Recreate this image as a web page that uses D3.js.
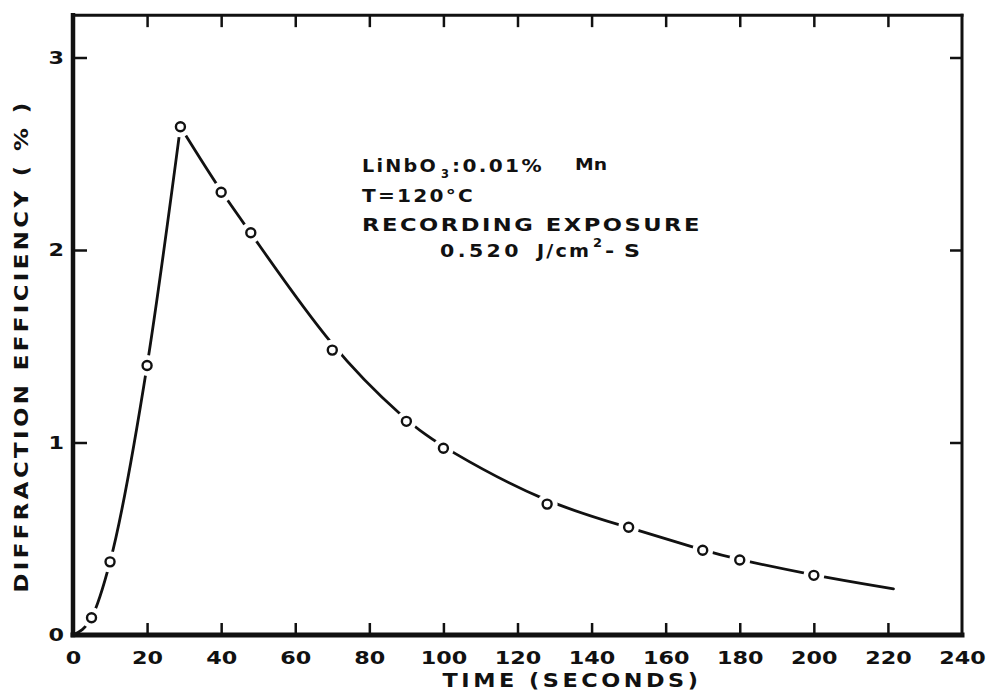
<!DOCTYPE html>
<html>
<head>
<meta charset="utf-8">
<script src="https://cdn.jsdelivr.net/npm/d3@7"></script>
<style>
  html, body { margin: 0; padding: 0; background: #fff; }
  svg { display: block; }
  text { font-family: "DejaVu Sans", sans-serif; font-weight: bold; fill: #111; }
</style>
</head>
<body>
<svg id="chart" width="997" height="693"></svg>
<script>
// ---- data ----
const timeSeconds = [5, 10, 20, 29, 40, 48, 70, 90, 100, 128, 150, 170, 180, 200];
const efficiencyPct = [0.09, 0.38, 1.40, 2.64, 2.30, 2.09, 1.48, 1.11, 0.97, 0.68, 0.56, 0.44, 0.39, 0.31];
const peakIndex = 3;
const curveStart = [0, 0];
const curveEnd = [221.5, 0.24];
const xTicks = [0, 20, 40, 60, 80, 100, 120, 140, 160, 180, 200, 220, 240];
const yTicks = [0, 1, 2, 3];
const xDomain = [0, 240];
const yTop = 3.22;
const xTitle = "TIME (SECONDS)";
const yTitle = "DIFFRACTION EFFICIENCY ( % )";
const noteLine1 = ["LiNbO", "3", ":0.01%", "Mn"];
const noteLine2 = "T=120°C";
const noteLine3 = "RECORDING EXPOSURE";
const noteLine4 = ["0.520", "J/cm", "2", "-S"];

// ---- layout ----
const svg = d3.select("#chart");
const x = d3.scaleLinear().domain(xDomain).range([73, 962]);
const y = d3.scaleLinear().domain([0, 3]).range([635, 57.5]);
const ink = "#111";

// frame
const X0 = x(xDomain[0]), X1 = x(xDomain[1]), Y0 = y(0), Y1 = y(yTop);
const frame = svg.append("g").attr("stroke", ink).attr("stroke-linecap", "square");
frame.append("line").attr("x1", X0).attr("x2", X0).attr("y1", Y1).attr("y2", Y0).attr("stroke-width", 4.5);
frame.append("line").attr("x1", X0).attr("x2", X1).attr("y1", Y0).attr("y2", Y0).attr("stroke-width", 5);
frame.append("line").attr("x1", X0).attr("x2", X1).attr("y1", Y1).attr("y2", Y1).attr("stroke-width", 3);
frame.append("line").attr("x1", X1).attr("x2", X1).attr("y1", Y1).attr("y2", Y0).attr("stroke-width", 3);

function styleAxis(g, w) {
  g.select(".domain").remove();
  g.selectAll(".tick line").attr("stroke", ink).attr("stroke-width", w);
  g.selectAll(".tick text").attr("fill", ink).style("font-size", "18px")
    .style("font-family", "'DejaVu Sans', sans-serif").style("font-weight", "bold")
    .attr("textLength", function() { return this.textContent.length * 15.5; })
    .attr("lengthAdjust", "spacingAndGlyphs");
}

// bottom axis
const gx = svg.append("g").attr("transform", `translate(0,${Y0})`)
  .call(d3.axisBottom(x).tickValues(xTicks).tickSizeInner(-12).tickSizeOuter(0).tickPadding(16).tickFormat(d3.format("d")));
styleAxis(gx, 2.5);
gx.selectAll(".tick").filter(d => d === 0 || d === 240).select("line").remove();

// top axis (ticks only)
const gt = svg.append("g").attr("transform", `translate(0,${Y1})`)
  .call(d3.axisTop(x).tickValues(xTicks.filter(d => d > 0 && d < 240)).tickSizeInner(-12).tickSizeOuter(0).tickFormat(""));
styleAxis(gt, 2.5);

// left axis
const gy = svg.append("g").attr("transform", `translate(${X0},0)`)
  .call(d3.axisLeft(y).tickValues(yTicks).tickSizeInner(-14).tickSizeOuter(0).tickPadding(9).tickFormat(d3.format("d")));
styleAxis(gy, 2.5);
gy.selectAll(".tick").filter(d => d === 0).select("line").remove();

// right axis (ticks only)
const gr = svg.append("g").attr("transform", `translate(${X1},0)`)
  .call(d3.axisRight(y).tickValues(yTicks.filter(d => d > 0)).tickSizeInner(-12).tickSizeOuter(0).tickFormat(""));
styleAxis(gr, 2.5);

// axis titles
svg.append("text").attr("x", 572).attr("y", 687).attr("text-anchor", "middle")
  .attr("textLength", 259).attr("lengthAdjust", "spacingAndGlyphs")
  .style("font-size", "19px").style("letter-spacing", "3px").text(xTitle);
svg.append("text").attr("transform", "translate(28,346) rotate(-90)").attr("text-anchor", "middle")
  .attr("textLength", 493).attr("lengthAdjust", "spacingAndGlyphs")
  .style("font-size", "20px").style("letter-spacing", "3px").text(yTitle);

// curve
const pts = timeSeconds.map((t, i) => [t, efficiencyPct[i]]);
const rise = [curveStart].concat(pts.slice(0, peakIndex + 1));
const decay = pts.slice(peakIndex).concat([curveEnd]);
const riseLine = d3.line().x(d => x(d[0])).y(d => y(d[1])).curve(d3.curveMonotoneX);
const decayLine = d3.line().x(d => x(d[0])).y(d => y(d[1])).curve(d3.curveBasis);
svg.append("path").attr("d", riseLine(rise)).attr("fill", "none").attr("stroke", ink).attr("stroke-width", 2.8);
svg.append("path").attr("d", decayLine(decay)).attr("fill", "none").attr("stroke", ink).attr("stroke-width", 2.8)
  .attr("stroke-linecap", "round");

// gaps around markers
svg.append("g").selectAll("circle").data(pts).join("circle")
  .attr("cx", d => x(d[0])).attr("cy", d => y(d[1])).attr("r", 10.5).attr("fill", "#fff");
// markers
svg.append("g").selectAll("circle").data(pts).join("circle")
  .attr("cx", d => x(d[0])).attr("cy", d => y(d[1])).attr("r", 4.5)
  .attr("fill", "#fff").attr("stroke", ink).attr("stroke-width", 2.4);

// annotation
const note = svg.append("g").style("font-size", "18px");
function piece(txt, px, py, len, size) {
  const t = note.append("text").attr("x", px).attr("y", py).text(txt);
  if (len) t.attr("textLength", len).attr("lengthAdjust", "spacingAndGlyphs");
  if (size) t.style("font-size", size + "px");
  return t;
}
piece(noteLine1[0], 362, 172, 76, 17).style("letter-spacing", "2px");
piece(noteLine1[1], 441, 178, 8, 12);
piece(noteLine1[2], 452, 172, 92, 17).style("letter-spacing", "2px");
piece(noteLine1[3], 575, 170, 32, 15);
piece(noteLine2, 362, 202, 113, 18).style("letter-spacing", "2px");
piece(noteLine3, 362, 231, 340, 18).style("letter-spacing", "2px");
piece(noteLine4[0], 440, 257, 82, 18).style("letter-spacing", "3px");
piece(noteLine4[1], 537, 257, 54, 18).style("letter-spacing", "2px");
piece(noteLine4[2], 593, 247, 9, 13);
piece(noteLine4[3], 605, 257, 45, 18).style("letter-spacing", "8px");
</script>
</body>
</html>
